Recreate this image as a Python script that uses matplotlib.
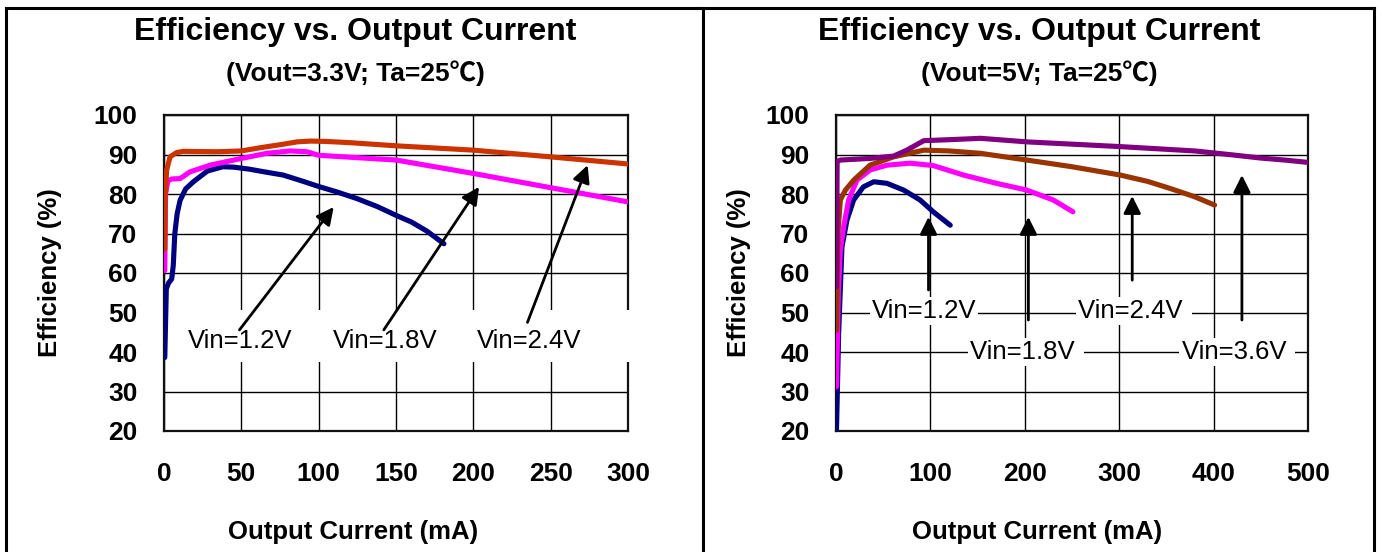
import matplotlib
matplotlib.use("Agg")
import matplotlib.pyplot as plt
from matplotlib.lines import Line2D
from matplotlib.patches import Rectangle

# ---------------- data ----------------
# Left panel: Vout = 3.3V
l_x_12 = [0.5, 1.5, 3, 5, 6, 7, 8.5, 10.4, 14, 19, 28, 38, 45, 55, 65, 77, 90, 100, 112, 125, 138, 150, 160, 170, 181]
l_y_12 = [38.6, 56, 57.5, 58.5, 62, 70, 75, 78.4, 81.3, 83.1, 85.8, 86.9, 86.8, 86.3, 85.6, 84.8, 83.2, 81.9, 80.5, 78.8, 76.8, 74.6, 72.9, 70.6, 67.4]
l_x_18 = [0.5, 1.0, 2.5, 5, 10.4, 16.8, 29.8, 50, 66.5, 81.6, 92.4, 100, 150, 200, 250, 300]
l_y_18 = [60.6, 80, 83.3, 83.8, 83.9, 85.6, 87.3, 89.0, 90.3, 90.9, 90.7, 89.8, 88.6, 85.2, 81.6, 78.0]
l_x_24 = [0.5, 0.8, 1.7, 3.9, 8.2, 12.5, 34, 50, 62, 77, 86, 95, 105, 120, 150, 200, 250, 300]
l_y_24 = [66, 80, 86, 89.4, 90.5, 90.8, 90.7, 90.9, 91.7, 92.6, 93.2, 93.4, 93.3, 93.0, 92.2, 91.1, 89.4, 87.6]

# Right panel: Vout = 5V
r_x_12 = [0.5, 2.8, 6.3, 11.6, 18.7, 29, 40, 54, 71.6, 89, 103, 121]
r_y_12 = [20.2, 44.7, 66.6, 73.4, 78.5, 81.8, 83.1, 82.7, 81.0, 78.5, 75.5, 72.1]
r_x_18 = [0.5, 2.5, 4.6, 8.1, 13.4, 22.2, 36.3, 54, 78.6, 103, 135, 170, 202, 230, 251]
r_y_18 = [31.2, 55, 65.8, 71.7, 78.5, 83.5, 86.1, 87.3, 87.8, 87.2, 84.8, 82.7, 81.0, 78.5, 75.5]
r_x_24 = [0.5, 2, 4.6, 10, 18.7, 36, 61, 93, 120, 153, 202, 250, 301, 330, 354, 380, 401]
r_y_24 = [45.5, 70, 78.5, 81, 83.5, 87.3, 89.4, 91.1, 90.9, 90.3, 88.6, 86.9, 84.8, 83.2, 81.4, 79.3, 77.2]
r_x_36 = [0.5, 1.2, 4.6, 36, 61, 75, 93, 125, 153, 202, 301, 380, 420, 450, 475, 500]
r_y_36 = [56.5, 88.2, 88.6, 89.0, 89.6, 91.1, 93.5, 93.8, 94.1, 93.2, 92.0, 90.9, 89.9, 89.1, 88.6, 88.0]

y_ticks = [20, 30, 40, 50, 60, 70, 80, 90, 100]
l_x_ticks = [0, 50, 100, 150, 200, 250, 300]
r_x_ticks = [0, 100, 200, 300, 400, 500]

title = "Efficiency vs. Output Current"
l_subtitle = "(Vout=3.3V; Ta=25℃)"
r_subtitle = "(Vout=5V; Ta=25℃)"
xlabel = "Output Current (mA)"
ylabel = "Efficiency (%)"

l_labels = ["Vin=1.2V", "Vin=1.8V", "Vin=2.4V"]
r_labels = ["Vin=1.2V", "Vin=1.8V ", "Vin=2.4V ", "Vin=3.6V "]

# ---------------- style ----------------
FONT = ["Liberation Sans", "Noto Sans CJK SC", "DejaVu Sans"]
plt.rcParams["font.family"] = FONT

W, H = 1382, 552
fig = plt.figure(figsize=(W / 100, H / 100), dpi=100)

def fx(px):
    return px / W

def fy(py):
    return 1 - py / H

ax_l = fig.add_axes([fx(164), fy(431), fx(628 - 164), (431 - 115) / H])
ax_r = fig.add_axes([fx(836), fy(431), fx(1308 - 836), (431 - 115) / H])

def style_axes(ax, xmax, xticks):
    ax.set_xlim(0, xmax)
    ax.set_ylim(20, 100)
    ax.set_xticks(xticks)
    ax.set_yticks(y_ticks)
    ax.grid(True, color="black", lw=1.0)
    ax.set_axisbelow(True)
    for s in ax.spines.values():
        s.set_color("#111111")
        s.set_linewidth(1.6)
    ax.tick_params(axis="both", length=0, labelsize=19)
    ax.tick_params(axis="x", pad=22)
    ax.tick_params(axis="y", pad=19)
    for lab in ax.get_xticklabels() + ax.get_yticklabels():
        lab.set_fontweight("bold")

style_axes(ax_l, 300, l_x_ticks)
style_axes(ax_r, 500, r_x_ticks)

LW = 3.7
kw = dict(lw=LW, solid_capstyle="round", solid_joinstyle="round", zorder=3)

# left panel curves
ax_l.plot(l_x_12, l_y_12, color="#000080", **kw)
ax_l.plot(l_x_18, l_y_18, color="#FF00FF", **kw)
ax_l.plot(l_x_24, l_y_24, color="#CC3300", **kw)

# right panel curves
ax_r.plot(r_x_12, r_y_12, color="#000080", **kw)
ax_r.plot(r_x_18, r_y_18, color="#FF00FF", **kw)
ax_r.plot(r_x_24, r_y_24, color="#993300", **kw)
ax_r.plot(r_x_36, r_y_36, color="#800080", **kw)

# white band behind labels in left panel
ax_l.add_patch(Rectangle((1.5, 37.4), 300 - 1.5 + 1.0, 50.6 - 37.4, facecolor="white",
                         edgecolor="none", zorder=2.6, clip_on=False))

arrow_kw = dict(arrowstyle="-|>", mutation_scale=26, lw=2.0, color="black",
                shrinkA=0, shrinkB=0)

# left panel annotations
l_text_xy = [(49, 42.9), (143, 42.9), (236, 42.9)]
l_tail = [(48.8, 45.6), (142.1, 45.6), (235, 47.5)]
l_head = [(109.7, 76.7), (203.7, 81.8), (273.9, 87.3)]
for lab, (tx, ty), t, h in zip(l_labels, l_text_xy, l_tail, l_head):
    ax_l.annotate("", xy=h, xytext=t, arrowprops=arrow_kw, zorder=4)
    ax_l.text(tx, ty, lab, ha="center", va="center", fontsize=18.5, zorder=5)

# right panel annotations
r_text_xy = [(38, 50.4), (142, 40.0), (256.7, 50.4), (366, 40.0)]
r_arrow_x = [98, 203.8, 313.8, 430]
r_tail_y = [55.7, 48.1, 58.2, 48.1]
r_head_y = [74.2, 74.2, 79.5, 84.8]
for x, ty, hy in zip(r_arrow_x, r_tail_y, r_head_y):
    ax_r.annotate("", xy=(x, hy), xytext=(x, ty), arrowprops=arrow_kw, zorder=4)
for lab, (tx, ty) in zip(r_labels, r_text_xy):
    ax_r.text(tx, ty, lab, ha="left", va="center", fontsize=18.5, zorder=5,
              bbox=dict(facecolor="white", edgecolor="none", pad=1.5))

# titles and labels (centered on panels)
for cx, sub, ylx in [(355, l_subtitle, 50), (1039, r_subtitle, 739)]:
    fig.text(fx(cx), fy(32), title, ha="center", va="center", fontsize=23, fontweight="bold")
    fig.text(fx(cx), fy(73), sub, ha="center", va="center", fontsize=19, fontweight="bold")
    fig.text(fx(cx - 2), fy(532), xlabel, ha="center", va="center", fontsize=18.5, fontweight="bold")
    fig.text(fx(ylx), fy(273), ylabel, ha="center", va="center", rotation=90,
             fontsize=18.5, fontweight="bold")

# outer frame lines
blw = 2.2
fig.add_artist(Line2D([fx(6), fx(1374)], [fy(8), fy(8)], transform=fig.transFigure,
                      color="black", lw=blw, solid_capstyle="projecting"))
for px in (6, 703, 1374):
    fig.add_artist(Line2D([fx(px), fx(px)], [fy(8), 0], transform=fig.transFigure,
                          color="black", lw=blw, solid_capstyle="projecting"))

fig.savefig("out.png", dpi=100, facecolor="white")
